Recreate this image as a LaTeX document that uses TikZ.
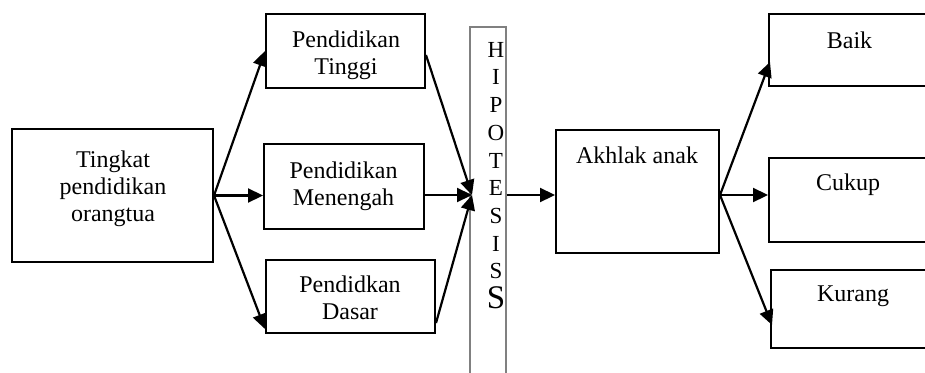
\documentclass[tikz,border=0pt]{standalone}
\usepackage{fontspec}
\setmainfont{Liberation Serif}
\usetikzlibrary{arrows.meta,calc}

\tikzset{
  box/.style={draw, line width=2pt, inner sep=0pt},
  txt/.style={anchor=north, inner sep=0pt, align=center,
              font=\fontsize{24}{27}\selectfont},
  arr/.style={line width=2.2pt, -{Triangle[length=15pt,width=14pt]}},
}

\begin{document}
\begin{tikzpicture}[x=1pt, y=-1pt]
  \useasboundingbox (0,0) rectangle (925,372);

  % frames
  \node[box, minimum width=201pt, minimum height=133pt] (lhs)      at (112.5,195.5) {};
  \node[box, minimum width=159pt, minimum height=74pt]  (tinggi)   at (345.5,51) {};
  \node[box, minimum width=160pt, minimum height=85pt]  (menengah) at (344,186.5) {};
  \node[box, minimum width=169pt, minimum height=73pt]  (dasar)    at (350.5,296.5) {};
  \node[draw=gray, line width=1.4pt, inner sep=0pt,
        minimum width=36pt, minimum height=358pt]       (hipo)     at (488,206) {};
  \node[box, minimum width=163pt, minimum height=123pt] (akhlak)   at (637.5,191.5) {};
  \node[box, minimum width=181pt, minimum height=72pt]  (baik)     at (859.5,50) {};
  \node[box, minimum width=181pt, minimum height=84pt]  (cukup)    at (859.5,200) {};
  \node[box, minimum width=179pt, minimum height=78pt]  (kurang)   at (860.5,309) {};

  % labels
  \node[txt] (tlhs)      at (113,151)   {Tingkat\\pendidikan\\orangtua};
  \node[txt] (ttinggi)   at (346,31)    {Pendidikan\\Tinggi};
  \node[txt] (tmenengah) at (343.5,162) {Pendidikan\\Menengah};
  \node[txt] (tdasar)    at (350,276)   {Pendidkan\\Dasar};
  \node[txt] (takhlak)   at (637,147)   {Akhlak anak};
  \node[txt] (tbaik)     at (849.5,32)  {Baik};
  \node[txt] (tcukup)    at (848,174)   {Cukup};
  \node[txt] (tkurang)   at (853,286)   {Kurang};
  \node[txt, font=\fontsize{23}{27.7}\selectfont] (thipo) at (496,42)
    {H\\I\\P\\O\\T\\E\\S\\I\\S\\[2pt]{\fontsize{33}{27.7}\selectfont S}};

  % junction points
  \coordinate (hin)  at (472,195);
  \coordinate (aout) at (akhlak.east |- hin);

  % left fan
  \draw[arr] (lhs.east) -- (tinggi.west);
  \draw[arr] (lhs.east) -- (menengah.west |- lhs.east);
  \draw[arr] (lhs.east) -- ($(dasar.south west)+(0,-5)$);

  % into the hypothesis column
  \draw[arr] ($(tinggi.east)+(0,4)$) -- (hin);
  \draw[arr] (menengah.east |- hin) -- (hin);
  \draw[arr] ($(dasar.south east)+(0,-11)$) -- (hin);

  % hypothesis to outcome
  \draw[arr] (hipo.east |- hin) -- (akhlak.west |- hin);

  % right fan
  \draw[arr] (aout) -- ($(baik.west)+(2,12)$);
  \draw[arr] (aout) -- (cukup.west |- aout);
  \draw[arr] (aout) -- ($(kurang.west)+(2,16)$);
\end{tikzpicture}
\end{document}
